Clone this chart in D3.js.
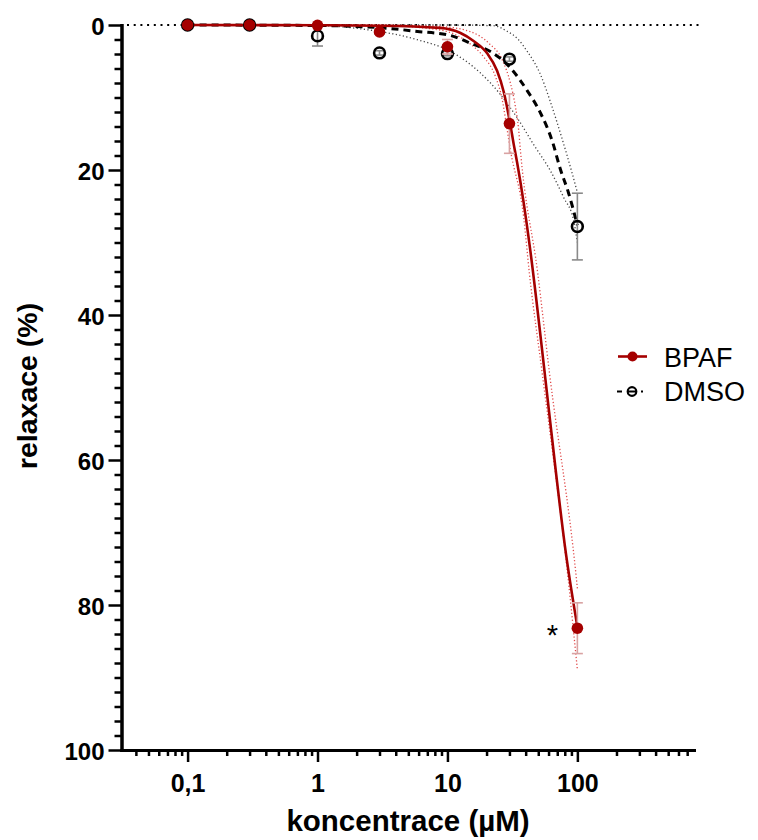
<!DOCTYPE html>
<html>
<head>
<meta charset="utf-8">
<script src="https://cdn.jsdelivr.net/npm/d3@7"></script>
<style>
  html, body { margin: 0; padding: 0; background: #ffffff; }
  svg { display: block; font-family: "Liberation Sans", Arial, sans-serif; }
</style>
</head>
<body>
<svg id="chart" width="758" height="840"></svg>
<script>
// Concentrations tested (µM) and mean relaxation (%) with SEM
const concentrations = [0.1, 0.3, 1, 3, 10, 30, 100];
const bpafMean = [0, 0, 0.05, 0.95, 3.0, 13.6, 83.2];
const bpafSem  = [0, 0, 0, 0.3, 1.0, 4.1, 3.5];
const dmsoMean = [0, 0, 1.5, 3.85, 3.95, 4.7, 27.8];
const dmsoSem  = [0, 0, 1.4, 0.3, 0.3, 0.3, 4.6];

// Fitted concentration–response curves (conc µM, relaxation %)
const bpafFitConc = [0.1, 1, 3, 8.8, 12.6, 15.9, 20.2, 24.1, 27.1, 30.1, 32.4, 34.4, 38.6, 43.5, 56.7, 68.7, 80.1, 100];
const bpafFitVal  = [0, 0.04, 0.1, 0.4, 1.1, 2.2, 3.9, 6.3, 9.2, 13.2, 16.5, 19.0, 24.5, 31.2, 48.8, 62.0, 71.8, 83.0];
const dmsoFitConc = [0.1, 1, 3.22, 5.88, 10.5, 15.8, 21.4, 30.5, 41.2, 51.9, 64.3, 74.0, 85.3, 100];
const dmsoFitVal  = [0, 0.07, 0.41, 0.89, 1.44, 2.68, 3.65, 5.91, 9.08, 12.1, 16.1, 19.9, 23.1, 27.6];

// 95% confidence bands of the fits
const bpafBandHiConc = [0.1, 3, 8.8, 14.2, 19.0, 23.4, 26.4, 28.8, 30.5, 38.6, 42.7, 53.5, 84.8, 100];
const bpafBandHiVal  = [0, 0.07, 0.69, 2.3, 4.4, 7.1, 10.3, 14.4, 17.2, 26.5, 34.2, 47.9, 76.3, 88.9];
const bpafBandLoConc = [0.1, 3, 8.8, 15.0, 20.8, 26.4, 30.5, 33.3, 35.3, 36.4, 49.5, 60.9, 98.2, 100];
const bpafBandLoVal  = [0, 0, 0.2, 0.92, 2.5, 4.8, 8.0, 11.2, 14.4, 17.2, 34.2, 47.9, 76.3, 77.7];
const dmsoBandHiConc = [0.1, 1, 2.41, 5.85, 10.5, 17.9, 25.6, 34.4, 46.1, 62.0, 78.5, 93.7, 100];
const dmsoBandHiVal  = [0, 0.07, 0.65, 2.02, 3.62, 6.6, 9.6, 12.8, 16.5, 20.1, 23.8, 27.0, 30.0];
const dmsoBandLoConc = [0.1, 1, 10, 22.7, 28.8, 34.4, 41.0, 51.9, 62.0, 76.0, 91.0, 100];
const dmsoBandLoVal  = [0, 0, 0, 0.1, 0.87, 1.83, 3.6, 6.8, 10.6, 15.6, 20.4, 23.1];

// Axis ticks
const yMajorTicks = [0, 20, 40, 60, 80, 100];
const xMajorTicks = [0.1, 1, 10, 100];
const xTickLabels = ["0,1", "1", "10", "100"];

const seriesNames = ["BPAF", "DMSO"];
const RED = "#a50000";

const svg = d3.select("#chart");

const x = d3.scaleLog().domain([0.031, 790]).range([121.5, 694]);
const y = d3.scaleLinear().domain([0, 100]).range([25, 750]);

// ----- axes -----
const yMinor = d3.range(0, 101, 2).filter(v => v % 20 !== 0);
const xMinor = [];
[0.01, 0.1, 1, 10, 100].forEach(d => {
  for (let k = 2; k <= 9; k++) {
    const v = d * k;
    if (v > x.domain()[0] && v < x.domain()[1]) xMinor.push(v);
  }
});

function styleAxis(g) {
  g.select(".domain").attr("stroke", "#000").attr("stroke-width", 3).attr("stroke-linecap", "square");
  g.selectAll(".tick line").attr("stroke", "#000").attr("stroke-width", 2.5);
  g.selectAll(".tick text").attr("fill", "#000").style("font-size", "24px").style("font-weight", "bold");
}

svg.append("g")
  .attr("transform", "translate(121.5,0)")
  .call(d3.axisLeft(y).tickValues(yMinor).tickSize(7).tickSizeOuter(0).tickFormat(""))
  .call(styleAxis);

const yAxisG = svg.append("g")
  .attr("transform", "translate(121.5,0)")
  .call(d3.axisLeft(y).tickValues(yMajorTicks).tickSize(13).tickSizeOuter(0).tickPadding(4))
  .call(styleAxis);
yAxisG.selectAll(".tick text").attr("dy", "0.4em");

svg.append("g")
  .attr("transform", "translate(0,750)")
  .call(d3.axisBottom(x).tickValues(xMinor).tickSize(6).tickSizeOuter(0).tickFormat(""))
  .call(styleAxis);

const xAxisG = svg.append("g")
  .attr("transform", "translate(0,750)")
  .call(d3.axisBottom(x).tickValues(xMajorTicks).tickSize(12).tickSizeOuter(0).tickPadding(12)
    .tickFormat((d, i) => xTickLabels[i]))
  .call(styleAxis);
xAxisG.selectAll(".tick text").style("font-size", "25px");

// Axis titles
svg.append("text")
  .attr("x", 408).attr("y", 831)
  .attr("text-anchor", "middle")
  .style("font-size", "29.5px").style("font-weight", "bold")
  .text("koncentrace (µM)");

svg.append("text")
  .attr("transform", "translate(37,386) rotate(-90)")
  .attr("text-anchor", "middle")
  .style("font-size", "28.5px").style("font-weight", "bold")
  .text("relaxace (%)");

// Zero reference line
svg.append("line")
  .attr("x1", 127).attr("x2", 699)
  .attr("y1", y(0)).attr("y2", y(0))
  .attr("stroke", "#000").attr("stroke-width", 2.2)
  .attr("stroke-dasharray", "2,4.7");

// ----- curves -----
const line = d3.line()
  .x(d => x(d[0]))
  .y(d => y(d[1]))
  .curve(d3.curveMonotoneX);
const pairs = (cs, vs) => cs.map((c, i) => [c, vs[i]]);

const plot = svg.append("g");

// DMSO confidence bands
[pairs(dmsoBandHiConc, dmsoBandHiVal), pairs(dmsoBandLoConc, dmsoBandLoVal)].forEach(band => {
  plot.append("path").attr("d", line(band))
    .attr("fill", "none").attr("stroke", "#444").attr("stroke-width", 1.3)
    .attr("stroke-dasharray", "1.2,2.4");
});
// BPAF confidence bands
[pairs(bpafBandHiConc, bpafBandHiVal), pairs(bpafBandLoConc, bpafBandLoVal)].forEach(band => {
  plot.append("path").attr("d", line(band))
    .attr("fill", "none").attr("stroke", "#e04848").attr("stroke-width", 1.3)
    .attr("stroke-dasharray", "1.2,2.2");
});

// DMSO fit (dashed)
plot.append("path").attr("d", line(pairs(dmsoFitConc, dmsoFitVal)))
  .attr("fill", "none").attr("stroke", "#000").attr("stroke-width", 3)
  .attr("stroke-dasharray", "7,5");

// BPAF fit (solid)
plot.append("path").attr("d", line(pairs(bpafFitConc, bpafFitVal)))
  .attr("fill", "none").attr("stroke", RED).attr("stroke-width", 2.6);

// ----- error bars -----
function errorBars(means, sems, color) {
  const g = plot.append("g").attr("stroke", color).attr("stroke-width", 1.6);
  concentrations.forEach((c, i) => {
    if (!sems[i]) return;
    const cx = x(c), y1 = y(means[i] - sems[i]), y2 = y(means[i] + sems[i]);
    g.append("line").attr("x1", cx).attr("x2", cx).attr("y1", y1).attr("y2", y2);
    g.append("line").attr("x1", cx - 5.5).attr("x2", cx + 5.5).attr("y1", y1).attr("y2", y1);
    g.append("line").attr("x1", cx - 5.5).attr("x2", cx + 5.5).attr("y1", y2).attr("y2", y2);
  });
}
errorBars(dmsoMean, dmsoSem, "#8a8a8a");

// DMSO markers (open circles)
plot.selectAll("circle.dmso")
  .data(concentrations)
  .join("circle")
  .attr("class", "dmso")
  .attr("cx", d => x(d))
  .attr("cy", (d, i) => y(dmsoMean[i]))
  .attr("r", 5.4)
  .attr("fill", "none")
  .attr("stroke", "#000")
  .attr("stroke-width", 2.6);

errorBars(bpafMean, bpafSem, "#d9a3a3");

// BPAF markers (filled)
plot.selectAll("circle.bpaf")
  .data(concentrations)
  .join("circle")
  .attr("class", "bpaf")
  .attr("cx", d => x(d))
  .attr("cy", (d, i) => y(bpafMean[i]))
  .attr("r", 5.8)
  .attr("fill", RED);

// Significance mark at 100 µM
svg.append("text")
  .attr("x", x(100) - 25).attr("y", y(bpafMean[6]) + 17)
  .attr("text-anchor", "middle")
  .style("font-size", "29px")
  .text("*");

// ----- legend -----
const legend = svg.append("g");
legend.append("line")
  .attr("x1", 618).attr("x2", 647).attr("y1", 356.5).attr("y2", 356.5)
  .attr("stroke", RED).attr("stroke-width", 2.6);
legend.append("circle").attr("cx", 632.5).attr("cy", 356.5).attr("r", 5).attr("fill", RED);
legend.append("text").attr("x", 664).attr("y", 366.5)
  .style("font-size", "27px").text(seriesNames[0]);

legend.append("line")
  .attr("x1", 617).attr("x2", 647).attr("y1", 391.5).attr("y2", 391.5)
  .attr("stroke", "#000").attr("stroke-width", 2.2)
  .attr("stroke-dasharray", "5,6,8,5,2,50");
legend.append("circle").attr("cx", 632).attr("cy", 391.5).attr("r", 4.3)
  .attr("fill", "none").attr("stroke", "#000").attr("stroke-width", 2.2);
legend.append("text").attr("x", 664).attr("y", 401)
  .style("font-size", "27px").text(seriesNames[1]);
</script>
</body>
</html>
